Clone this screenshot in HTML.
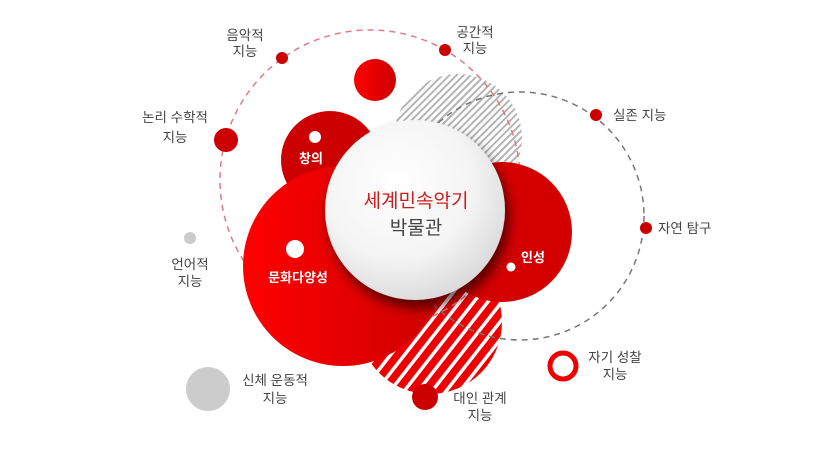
<!DOCTYPE html>
<html><head><meta charset="utf-8"><style>
html,body{margin:0;padding:0;background:#fff}
svg text{font-family:"Liberation Sans","Noto Sans CJK KR",sans-serif}
</style></head><body>
<svg width="820" height="457" viewBox="0 0 820 457" xmlns="http://www.w3.org/2000/svg">
<defs>
<pattern id="gh" width="5" height="5" patternUnits="userSpaceOnUse" patternTransform="rotate(45)">
<rect width="5" height="5" fill="#fff"/><rect width="2" height="5" fill="#b5b5b5"/></pattern>
<pattern id="rh" width="11" height="11" patternUnits="userSpaceOnUse" patternTransform="rotate(38)">
<rect width="11" height="11" fill="#fff"/><rect width="7.5" height="11" fill="#ee0000"/></pattern>
<radialGradient id="wg" cx="0.4" cy="0.35" r="0.7"><stop offset="0" stop-color="#fff"/><stop offset="0.6" stop-color="#f4f4f4"/><stop offset="1" stop-color="#d8d8d8"/></radialGradient>
<linearGradient id="rg" x1="0" y1="0" x2="1" y2="0"><stop offset="0" stop-color="#ff0000"/><stop offset="1" stop-color="#cc0000"/></linearGradient>
<filter id="sh" x="-30%" y="-30%" width="160%" height="160%"><feGaussianBlur in="SourceAlpha" stdDeviation="6"/><feOffset dx="4" dy="8"/><feComponentTransfer><feFuncA type="linear" slope="0.6"/></feComponentTransfer><feMerge><feMergeNode/><feMergeNode in="SourceGraphic"/></feMerge></filter>
</defs>
<circle cx="458" cy="138" r="64" fill="url(#gh)"/>
<circle cx="430" cy="322" r="72" fill="url(#rh)"/>
<circle cx="370" cy="180" r="150" fill="none" stroke="#e07a88" stroke-width="1.5" stroke-dasharray="6,5"/>
<circle cx="520" cy="216" r="124" fill="none" stroke="#777" stroke-width="1.5" stroke-dasharray="6,5"/>
<circle cx="375" cy="80" r="21" fill="url(#rg)"/>
<circle cx="330" cy="160" r="49" fill="#cc0000"/>
<circle cx="343" cy="266" r="100" fill="url(#rg)"/>
<circle cx="502" cy="232" r="70" fill="#d40000"/>
<circle cx="415" cy="210" r="90" fill="url(#wg)" filter="url(#sh)"/>
<circle cx="315" cy="137" r="6" fill="#fff"/>
<circle cx="295" cy="249" r="9" fill="#fff"/>
<circle cx="511" cy="267" r="4.5" fill="#fff"/>
<text x="311" y="163" fill="#fff" font-size="13" font-weight="bold" text-anchor="middle">창의</text>
<text x="298" y="282" fill="#fff" font-size="13" font-weight="bold" text-anchor="middle">문화다양성</text>
<text x="533" y="262" fill="#fff" font-size="13" font-weight="bold" text-anchor="middle">인성</text>
<text x="416" y="207" fill="#d11a1a" font-size="19" text-anchor="middle">세계민속악기</text>
<text x="416" y="234" fill="#444" font-size="19" text-anchor="middle">박물관</text>
<circle cx="282" cy="58" r="6" fill="#cc0000"/>
<circle cx="445" cy="50" r="6" fill="#cc0000"/>
<circle cx="226" cy="140" r="12" fill="#cc0000"/>
<circle cx="596" cy="115" r="6" fill="#cc0000"/>
<circle cx="646" cy="228" r="6" fill="#cc0000"/>
<circle cx="190" cy="238" r="6" fill="#ccc"/>
<circle cx="208" cy="389" r="22" fill="#ccc"/>
<circle cx="425" cy="397" r="13" fill="#cc0000"/>
<circle cx="563" cy="366" r="13" fill="none" stroke="#ee0000" stroke-width="5"/>
<g fill="#444" font-size="13.5" text-anchor="middle">
<text x="245" y="40">음악적</text><text x="245" y="56">지능</text>
<text x="475" y="37">공간적</text><text x="475" y="53">지능</text>
<text x="175" y="122">논리 수학적</text><text x="175" y="142">지능</text>
<text x="190" y="269">언어적</text><text x="190" y="286">지능</text>
<text x="275" y="385">신체 운동적</text><text x="275" y="403">지능</text>
<text x="480" y="403">대인 관계</text><text x="480" y="420">지능</text>
<text x="615" y="362">자기 성찰</text><text x="615" y="379">지능</text>
</g>
<g fill="#444" font-size="13.5">
<text x="613" y="120">실존 지능</text>
<text x="658" y="233">자연 탐구</text>
</g>
</svg>
</body></html>
